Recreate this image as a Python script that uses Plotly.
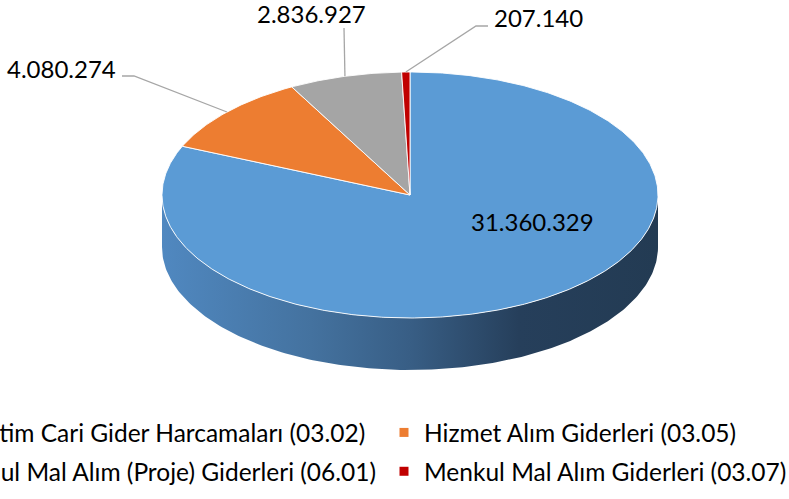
import numpy as np
import plotly.graph_objects as go

# ---- data ----
categories = [
    "Yönetim Cari Gider Harcamaları (03.02)",
    "Hizmet Alım Giderleri (03.05)",
    "Mamul Mal Alım (Proje) Giderleri (06.01)",
    "Menkul Mal Alım Giderleri (03.07)",
]
values = [31360329, 4080274, 2836927, 207140]
colors = ["#5B9BD5", "#ED7D31", "#A5A5A5", "#C00000"]
side_scales = {
    "#5B9BD5": [[0, "#5088C0"], [0.3, "#44729F"], [0.5, "#385E85"], [0.72, "#263F5B"], [1, "#233B53"]],
}

# ---- geometry / style (pixel space) ----
W, H = 789, 499
CX, CY, RX, RY, DEPTH = 410, 195, 248, 123, 52
FONT = "Lato"
FS_LEG = 24.5
FS_LAB = 24


def pt(theta_deg, dy=0.0):
    t = np.radians(theta_deg)
    return CX + RX * np.sin(t), CY - RY * np.cos(t) + dy


def fmt(v):
    return f"{v:,}".replace(",", ".")


total = sum(values)
fracs = [v / total for v in values]
ends = list(np.cumsum(fracs) * 360)
starts = [0.0] + ends[:-1]

fig = go.Figure()

# side walls (front visible part: theta 90..270)
for s, e, c in zip(starts, ends, colors):
    a, b = max(s, 90), min(e, 270)
    if b <= a:
        continue
    th = np.linspace(a, b, 200)
    xt, yt = pt(th)
    xb, yb = pt(th[::-1], DEPTH)
    xs = np.concatenate([xt, xb, xt[:1]])
    ys = np.concatenate([yt, yb, yt[:1]])
    scale = side_scales.get(c, [[0, c], [1, c]])
    fig.add_trace(go.Scatter(
        x=xs, y=ys, mode="lines", fill="toself",
        line=dict(width=0, color=c),
        fillgradient=dict(type="horizontal", colorscale=scale),
        hoverinfo="skip", showlegend=False,
    ))

# top face slices
for s, e, c, v in zip(starts, ends, colors, values):
    n = max(int((e - s) / 0.5), 4)
    th = np.linspace(s, e, n)
    xa, ya = pt(th)
    xs = np.concatenate([[CX], xa, [CX]])
    ys = np.concatenate([[CY], ya, [CY]])
    fig.add_trace(go.Scatter(
        x=xs, y=ys, mode="lines", fill="toself", fillcolor=c,
        line=dict(width=1, color="rgba(255,255,255,0.9)"),
        hoverinfo="skip", showlegend=False,
    ))

# leader lines + labels
mids = [(s + e) / 2 for s, e in zip(starts, ends)]
leader_elbows = {1: [(134, 76), (122, 76)], 2: [(344, 28)], 3: [(476, 26), (488, 26)]}
for i, elb in leader_elbows.items():
    x0, y0 = pt(mids[i])
    xs = [x0] + [p[0] for p in elb]
    ys = [y0] + [p[1] for p in elb]
    fig.add_trace(go.Scatter(x=xs, y=ys, mode="lines",
                             line=dict(color="#A6A6A6", width=1.3),
                             hoverinfo="skip", showlegend=False))

label_pos = {
    0: dict(x=532, y=221, xanchor="center"),
    1: dict(x=118, y=68, xanchor="right"),
    2: dict(x=311, y=13, xanchor="center"),
    3: dict(x=492, y=17, xanchor="left"),
}
for i, v in enumerate(values):
    p = label_pos[i]
    fig.add_annotation(x=p["x"], y=p["y"], xanchor=p["xanchor"], yanchor="middle",
                       text=fmt(v), showarrow=False,
                       font=dict(family=FONT, size=FS_LAB, color="#000000"))

# legend entries
legend_of = ["legend", "legend2", "legend", "legend2"]
for i, (name, c) in enumerate(zip(categories, colors)):
    fig.add_trace(go.Scatter(
        x=[None], y=[None], mode="markers", name=name,
        marker=dict(symbol="square", size=9, color=c),
        legend=legend_of[i], legendgroup=f"g{i}", showlegend=True,
    ))

leg_common = dict(
    xanchor="left", yanchor="top", orientation="v",
    font=dict(family=FONT, size=FS_LEG, color="#000000"),
    bgcolor="rgba(0,0,0,0)", borderwidth=0, tracegroupgap=4, itemwidth=30,
)

fig.update_layout(
    width=W, height=H,
    margin=dict(l=0, r=0, t=0, b=0, pad=0, autoexpand=False),
    paper_bgcolor="white", plot_bgcolor="white",
    xaxis=dict(range=[0, W], visible=False, fixedrange=True),
    yaxis=dict(range=[H, 0], visible=False, fixedrange=True),
    legend=dict(x=-94 / W, y=1 - 410 / H, **leg_common),
    legend2=dict(x=384 / W, y=1 - 410 / H, **leg_common),
    font=dict(family=FONT),
    hovermode=False,
)

fig.write_html(
    "out.html",
    config={"displayModeBar": False},
    post_script="document.body.style.margin='0';document.body.style.overflow='hidden';",
)
